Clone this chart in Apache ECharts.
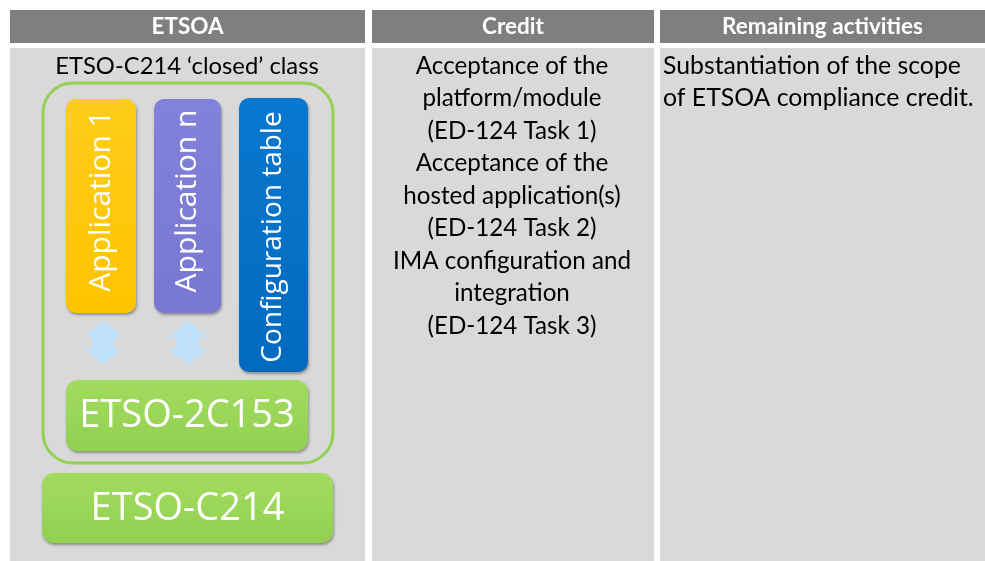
<!DOCTYPE html>
<html>
<head>
<meta charset="utf-8">
<script src="https://cdn.jsdelivr.net/npm/echarts@6/dist/echarts.min.js"></script>
<style>
html,body{margin:0;padding:0;background:#fff;}
#main{width:985px;height:561px;}
</style>
</head>
<body>
<div id="main"></div>
<script>
// ---- content ----
var headers = ['ETSOA', 'Credit', 'Remaining activities'];
var etsoaTitle = 'ETSO-C214 \u2018closed\u2019 class';
var creditLines = [
  'Acceptance of the', 'platform/module', '(ED-124 Task 1)',
  'Acceptance of the', 'hosted application(s)', '(ED-124 Task 2)',
  'IMA configuration and', 'integration', '(ED-124 Task 3)'
];
var remainingLines = ['Substantiation of the scope', 'of ETSOA compliance credit.'];
var appLabels = ['Application 1', 'Application n', 'Configuration table'];
var appColors = [['#ffcd1a', '#ffc300'], ['#8282da', '#7878d4'], ['#0a78cf', '#006abf']];
var platformLabels = ['ETSO-2C153', 'ETSO-C214'];

// ---- layout (pixels) ----
var colX = [[10, 365], [372, 654], [660, 985]];
var headerY = [10, 43];
var bodyY = [48, 561];
var FONT = 'Lato, "Open Sans", sans-serif';
var DFONT = '"Open Sans", Lato, sans-serif';

var chart = echarts.init(document.getElementById('main'), null, {renderer: 'canvas'});
var els = [];

// table cells
colX.forEach(function (c, i) {
  els.push({type: 'rect', shape: {x: c[0], y: headerY[0], width: c[1] - c[0], height: headerY[1] - headerY[0]},
    style: {fill: '#7f7f7f'}});
  els.push({type: 'text', x: (c[0] + c[1]) / 2, y: (headerY[0] + headerY[1]) / 2,
    style: {text: headers[i], fill: '#fff', font: 'bold 22.5px ' + FONT, align: 'center', verticalAlign: 'middle'}});
  els.push({type: 'rect', shape: {x: c[0], y: bodyY[0], width: c[1] - c[0], height: bodyY[1] - bodyY[0]},
    style: {fill: '#d9d9d9'}});
});

// column texts
var LH = 32.5;
els.push({type: 'text', x: 187, y: 66, style: {text: etsoaTitle, fill: '#000', font: '23.8px ' + FONT, align: 'center', verticalAlign: 'middle'}});
creditLines.forEach(function (t, i) {
  els.push({type: 'text', x: 512, y: 66 + i * LH, style: {text: t, fill: '#000', font: '24.2px ' + FONT, align: 'center', verticalAlign: 'middle'}});
});
remainingLines.forEach(function (t, i) {
  els.push({type: 'text', x: 663, y: 66 + i * LH, style: {text: t, fill: '#000', font: '24.8px ' + FONT, align: 'left', verticalAlign: 'middle'}});
});

// diagram
var shadow = {shadowBlur: 3, shadowOffsetX: 1, shadowOffsetY: 2, shadowColor: 'rgba(0,0,0,0.35)'};
function grad(c) {
  return new echarts.graphic.LinearGradient(0, 0, 0, 1, [{offset: 0, color: c[0]}, {offset: 1, color: c[1]}]);
}
// outer rounded frame
els.push({type: 'rect', shape: {x: 43, y: 83, width: 290, height: 380, r: 30},
  style: {fill: 'none', stroke: '#94d152', lineWidth: 3}});

var apps = [[66, 99, 70, 214], [154, 99, 67, 214], [239, 98, 69, 274]];
apps.forEach(function (b, i) {
  els.push({type: 'rect', shape: {x: b[0], y: b[1], width: b[2], height: b[3], r: 10},
    style: Object.assign({fill: grad(appColors[i])}, shadow)});
});
var labelCY = [201, 201, 237];
var labelSize = [30, 30, 28];
apps.forEach(function (b, i) {
  els.push({type: 'text', x: b[0] + b[2] / 2, y: labelCY[i], rotation: Math.PI / 2,
    style: {text: appLabels[i], fill: '#fff', font: labelSize[i] + 'px ' + DFONT, align: 'center', verticalAlign: 'middle'}});
});

// up-down arrows
[103, 188].forEach(function (cx) {
  var w = 19, s = 11.5, t = 321, m1 = 337, m2 = 349, b = 365;
  els.push({type: 'polygon', shape: {points: [
    [cx, t], [cx + w, m1], [cx + s, m1], [cx + s, m2], [cx + w, m2], [cx, b],
    [cx - w, m2], [cx - s, m2], [cx - s, m1], [cx - w, m1]
  ]}, style: {fill: '#bfe0fb'}});
});

// platform boxes
var plat = [[66, 380, 242, 71], [42, 473, 291, 70]];
plat.forEach(function (b, i) {
  els.push({type: 'rect', shape: {x: b[0], y: b[1], width: b[2], height: b[3], r: 12},
    style: Object.assign({fill: grad(['#a2dc5e', '#92d050'])}, shadow)});
  els.push({type: 'text', x: b[0] + b[2] / 2, y: b[1] + b[3] / 2 + 1,
    style: {text: platformLabels[i], fill: '#fff', font: '38px ' + DFONT, align: 'center', verticalAlign: 'middle'}});
});

chart.setOption({
  backgroundColor: '#ffffff',
  animation: false,
  graphic: {elements: els}
});
</script>
</body>
</html>
